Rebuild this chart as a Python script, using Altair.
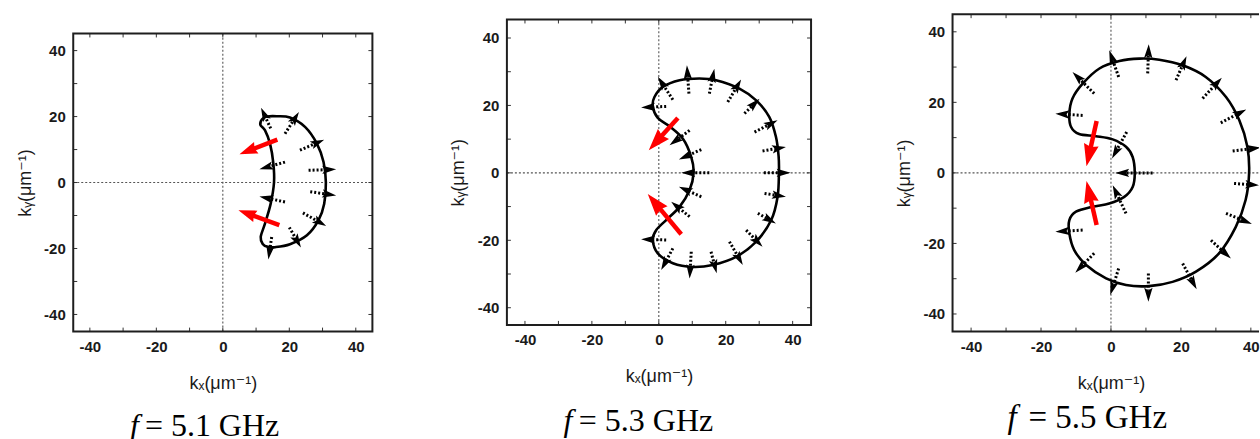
import math
import altair as alt
import pandas as pd

TICKS = [-40, -20, 0, 20, 40]
MINOR = [-40, -30, -20, -10, 0, 10, 20, 30, 40]

# ---------------- Panel 1 : f = 5.1 GHz ----------------
p1_curve_kx = [15.4, 15.2, 14.2, 12.7, 11.3, 11.8, 13.2, 16.2, 20.2, 24.8, 28.3, 30.3, 31.0,
               30.5, 28.8, 25.3, 20.2, 15.7, 13.5, 12.0, 11.4, 12.7, 14.4]
p1_curve_ky = [0.0, 5.8, 11.8, 15.8, 17.5, 19.2, 20.0, 20.1, 19.7, 16.8, 11.8, 6.2, 0.0,
               -6.4, -11.4, -16.0, -18.7, -19.6, -19.5, -18.6, -16.5, -12.4, -6.4]
p1_tail_kx = [14.4, 18.7, 23.2, 25.8, 26.3, 24.1, 20.0, 14.7, 18.7, 18.7]
p1_tail_ky = [16.4, 14.8, 9.8, 3.7, -2.8, -9.2, -13.6, -16.5, 6.2, -5.9]
p1_tip_kx = [11.5, 22.9, 30.5, 34.1, 34.1, 31.1, 23.5, 13.7, 11.0, 11.0]
p1_tip_ky = [22.7, 21.4, 13.0, 4.0, -3.9, -13.2, -19.7, -23.3, 4.0, -4.2]
p1_red_tail_kx = [16.4, 17.0]
p1_red_tail_ky = [13.0, -12.9]
p1_red_tip_kx = [5.0, 4.7]
p1_red_tip_ky = [8.6, -8.4]

# ---------------- Panel 2 : f = 5.3 GHz ----------------
p2_curve_kx = [10.4, 9.7, 7.2, 3.2, -0.3, -1.8, -1.3, 1.2, 6.2, 12.1, 17.1, 24.1, 29.1, 33.0, 35.0,
               35.8, 35.9, 35.5, 33.6, 29.1, 23.1, 16.1, 10.1, 4.2, -0.3, -1.8, -0.8, 2.2, 6.2, 9.2]
p2_curve_ky = [0.0, 4.7, 10.1, 13.8, 16.3, 19.7, 22.5, 25.5, 27.5, 28.0, 27.5, 25.0, 21.5, 16.6, 10.7,
               5.0, 0.0, -7.1, -14.0, -20.4, -24.9, -27.3, -27.9, -26.8, -23.9, -19.9, -17.0, -14.0, -10.1, -5.1]
p2_tail_kx = [2.2, 4.2, 9.0, 15.1, 20.6, 25.6, 28.6, 31.0, 31.4, 31.6, 29.6, 26.1, 21.1, 15.6, 9.7,
              4.2, 2.2, 15.1, 12.7, 9.2, 12.7, 9.2]
p2_tail_ky = [19.7, 21.7, 23.5, 23.5, 21.0, 17.6, 12.1, 6.5, 0.0, -6.1, -12.0, -17.0, -20.4, -23.4, -23.4,
              -22.4, -19.9, 0.0, 6.9, 12.6, -7.1, -13.0]
p2_tip_kx = [-5.3, -0.3, 8.4, 16.6, 24.6, 30.1, 35.5, 38.0, 39.4, 38.0, 35.0, 31.0, 25.1, 17.3, 9.2,
             0.7, -5.3, 6.7, 6.0, 3.2, 6.0, 3.7]
p2_tip_ky = [19.4, 28.5, 31.9, 30.9, 27.7, 22.0, 15.6, 7.7, 0.0, -7.1, -15.0, -21.9, -27.3, -29.8, -31.3,
             -28.8, -19.7, 0.0, 4.0, 8.2, -4.1, -8.6]
p2_red_tail_kx = [5.7, 6.7]
p2_red_tail_ky = [16.3, -18.2]
p2_red_tip_kx = [-3.0, -3.3]
p2_red_tip_ky = [6.7, -6.3]

# ---------------- Panel 3 : f = 5.5 GHz ----------------
p3_curve_kx = [6.8, 6.2, 4.3, 0.5, -4.3, -9.1, -11.4, -11.9, -11.0, -8.1, -3.3, 2.4, 8.1, 13.8, 20.5,
               27.1, 32.9, 36.7, 39.0, 39.5, 38.5, 35.7, 30.9, 24.3, 17.6, 10.9, 4.3, -1.4, -7.1, -10.5,
               -11.9, -11.9, -10.0, -5.3, -0.5, 3.8, 6.2]
p3_curve_ky = [0.0, 4.5, 7.4, 9.5, 10.4, 11.0, 13.0, 16.8, 21.1, 25.3, 29.6, 31.7, 32.4, 32.1, 30.5,
               27.2, 21.5, 14.9, 7.4, 0.0, -7.7, -15.3, -22.8, -28.0, -30.9, -32.1, -31.8, -29.9, -26.1, -21.9,
               -17.2, -13.4, -11.0, -9.6, -8.7, -6.8, -4.0]
p3_tail_kx = [-8.1, -4.8, 2.2, 10.5, 18.6, 26.2, 31.4, 34.8, 35.2, 32.9, 28.6, 20.5, 10.7, 2.2, -4.8,
              -8.1, 11.9, 4.5, 4.3]
p3_tail_ky = [16.3, 22.5, 27.2, 28.2, 26.3, 21.1, 14.2, 6.2, -3.0, -11.5, -19.1, -25.7, -28.5, -27.1, -22.8,
              -16.2, 0.0, 11.6, -11.5]
p3_tip_kx = [-15.9, -11.0, -0.5, 10.8, 21.6, 31.7, 38.7, 42.9, 42.4, 40.3, 34.3, 24.5, 10.7, -0.2, -10.2,
             -15.9, 1.2, 0.3, 0.5]
p3_tip_ky = [16.8, 28.6, 34.8, 36.5, 33.1, 27.0, 18.0, 7.2, -3.5, -14.5, -24.3, -33.0, -36.5, -34.6, -28.3,
             -16.7, 0.0, 4.1, -3.5]
p3_red_tail_kx = [-4.1, -4.1]
p3_red_tail_ky = [14.7, -14.8]
p3_red_tip_kx = [-7.0, -7.0]
p3_red_tip_ky = [1.9, -2.3]

CAPTIONS = ["= 5.1 GHz", "= 5.3 GHz", "= 5.5 GHz"]

BLACK_HEAD = "M0,-1L0.6,1L0,0.6L-0.6,1Z"
RED_HEAD = "M0,-1L0.68,1L0,0.8L-0.68,1Z"
VIEW_H = 340


def arrows(tx, ty, hx, hy, head_px, shaft_frac, ppx, ppy):
    rows = []
    for a, b, c, d in zip(tx, ty, hx, hy):
        dxp = (c - a) * ppx
        dyp = (d - b) * ppy
        n = math.hypot(dxp, dyp)
        ux, uy = dxp / n, dyp / n
        rows.append(dict(
            x0=a, y0=b,
            x1=c - ux * head_px * shaft_frac / ppx,
            y1=d - uy * head_px * shaft_frac / ppy,
            hx=c - ux * head_px / 2 / ppx,
            hy=d - uy * head_px / 2 / ppy,
            ang=(math.degrees(math.atan2(ux, uy)) + 360) % 360,
        ))
    return pd.DataFrame(rows)


def panel(ckx, cky, tkx, tky, hkx, hky, rtx, rty, rhx, rhy, xdom, ydom,
          view_x, view_w, box, caption, cap_f_x, cap_rest_x, cap_y, cap_size, red_px):
    # box = (left, right, top, bottom) of the plotting frame in page pixels
    left, right, top, bottom = box
    xr = [left - view_x, right - view_x]
    yr = [bottom, top]
    ppx = (xr[1] - xr[0]) / (xdom[1] - xdom[0])
    ppy = (yr[0] - yr[1]) / (ydom[1] - ydom[0])
    xs = alt.Scale(domain=xdom, range=xr, nice=False, zero=False)
    ys = alt.Scale(domain=ydom, range=yr, nice=False, zero=False)
    xa = alt.Axis(values=TICKS, title="kₓ(μm⁻¹)", labelExpr="'' + datum.value",
                  offset=bottom - VIEW_H, titleX=(xr[0] + xr[1]) / 2)
    ya = alt.Axis(values=TICKS, title="kᵧ(μm⁻¹)", labelExpr="'' + datum.value",
                  offset=-xr[0], titleY=(yr[0] + yr[1]) / 2)

    def X(f):
        return alt.X(f, type="quantitative", scale=xs, axis=xa)

    def Y(f):
        return alt.Y(f, type="quantitative", scale=ys, axis=ya)

    frame = pd.DataFrame({"x0": [xdom[0]], "x1": [xdom[1]], "y0": [ydom[0]], "y1": [ydom[1]]})
    frame_l = alt.Chart(frame).mark_rect(fillOpacity=0, stroke="#1e1e1e", strokeWidth=2, clip=True).encode(
        x=X("x0"), x2="x1", y=Y("y0"), y2="y1")

    cross = pd.DataFrame({"x0": [0.0, xdom[0]], "y0": [ydom[0], 0.0],
                          "x1": [0.0, xdom[1]], "y1": [ydom[1], 0.0]})
    cross_l = alt.Chart(cross).mark_rule(color="#555", strokeWidth=1.1, strokeDash=[2, 2], clip=True).encode(
        x=X("x0"), y=Y("y0"), x2="x1", y2="y1")

    lx = 4.0 / ppx
    ly = 4.0 / ppy
    trows = []
    for v in MINOR:
        trows.append(dict(x0=v, x1=v, y0=ydom[0], y1=ydom[0] + ly))
        trows.append(dict(x0=v, x1=v, y0=ydom[1] - ly, y1=ydom[1]))
        trows.append(dict(x0=xdom[0], x1=xdom[0] + lx, y0=v, y1=v))
        trows.append(dict(x0=xdom[1] - lx, x1=xdom[1], y0=v, y1=v))
    ticks_l = alt.Chart(pd.DataFrame(trows)).mark_rule(color="#333", strokeWidth=1, clip=True).encode(
        x=X("x0"), y=Y("y0"), x2="x1", y2="y1")

    cdf = pd.DataFrame({"kx": ckx, "ky": cky, "i": list(range(len(ckx)))})
    curve_l = alt.Chart(cdf).mark_line(color="black", strokeWidth=2.6, interpolate="cardinal-closed",
                                       clip=True).encode(
        x=X("kx"), y=Y("ky"), order="i:Q")

    bdf = arrows(tkx, tky, hkx, hky, 14, 0.8, ppx, ppy)
    shaft_l = alt.Chart(bdf).mark_rule(color="black", strokeWidth=3, strokeDash=[2, 2], clip=True).encode(
        x=X("x0"), y=Y("y0"), x2="x1", y2="y1")
    head_l = alt.Chart(bdf).mark_point(shape=BLACK_HEAD, filled=True, color="black", opacity=1,
                                       size=196, strokeWidth=0, clip=True).encode(
        x=X("hx"), y=Y("hy"), angle=alt.Angle("ang:Q", scale=None))

    rdf = arrows(rtx, rty, rhx, rhy, red_px, 0.7, ppx, ppy)
    rshaft_l = alt.Chart(rdf).mark_rule(color="#ff0000", strokeWidth=4.5, clip=True).encode(
        x=X("x0"), y=Y("y0"), x2="x1", y2="y1")
    rhead_l = alt.Chart(rdf).mark_point(shape=RED_HEAD, filled=True, color="#ff0000", opacity=1,
                                        size=red_px * red_px, strokeWidth=0, clip=True).encode(
        x=X("hx"), y=Y("hy"), angle=alt.Angle("ang:Q", scale=None))

    one = pd.DataFrame({"d": [0]})
    cap_f = alt.Chart(one).mark_text(font="Liberation Serif", fontStyle="italic", fontSize=cap_size,
                                     align="left", baseline="alphabetic", color="black").encode(
        x=alt.value(cap_f_x - view_x), y=alt.value(cap_y), text=alt.value("f"))
    cap_r = alt.Chart(one).mark_text(font="Liberation Serif", fontSize=cap_size,
                                     align="left", baseline="alphabetic", color="black").encode(
        x=alt.value(cap_rest_x - view_x), y=alt.value(cap_y), text=alt.value(caption))

    return alt.layer(cross_l, ticks_l, curve_l, shaft_l, head_l, rshaft_l, rhead_l, frame_l,
                     cap_f, cap_r).properties(width=view_w, height=VIEW_H)


# views tile the page side by side: [0,440), [440,890), [890,1260)
P1 = panel(p1_curve_kx, p1_curve_ky, p1_tail_kx, p1_tail_ky, p1_tip_kx, p1_tip_ky,
           p1_red_tail_kx, p1_red_tail_ky, p1_red_tip_kx, p1_red_tip_ky,
           [-45.0, 45.0], [-45.2, 45.2], 0, 440, (73.3, 372.7, 33.3, 331.7),
           CAPTIONS[0], 130, 145, 436, 32, 18)
P2 = panel(p2_curve_kx, p2_curve_ky, p2_tail_kx, p2_tail_ky, p2_tip_kx, p2_tip_ky,
           p2_red_tail_kx, p2_red_tail_ky, p2_red_tip_kx, p2_red_tip_ky,
           [-45.4, 45.5], [-45.1, 45.5], 440, 450, (507.3, 811.7, 19.3, 325.0),
           CAPTIONS[1], 564, 579.3, 430.7, 32, 22)
P3 = panel(p3_curve_kx, p3_curve_ky, p3_tail_kx, p3_tail_ky, p3_tip_kx, p3_tip_ky,
           p3_red_tail_kx, p3_red_tail_ky, p3_red_tip_kx, p3_red_tip_ky,
           [-45.3, 45.3], [-45.0, 45.0], 890, 370, (953.3, 1270.4, 14.0, 331.7),
           CAPTIONS[2], 1008.3, 1029.3, 428, 33, 22)

chart = alt.hconcat(P1, P2, P3, spacing=0, bounds="flush").properties(
    padding={"left": 0, "top": 0, "right": 0, "bottom": 0},
    background="white",
).configure_view(
    stroke="transparent", strokeWidth=0
).configure_axis(
    grid=False, ticks=False, tickSize=0, domain=False,
    labelFont="Liberation Sans", labelFontSize=15, labelFontWeight="bold", labelColor="#1a1a1a",
    labelPadding=8,
    titleFont="Liberation Sans, DejaVu Sans", titleFontSize=18, titleFontWeight="normal",
    titleColor="#1a1a1a",
).configure_axisX(titlePadding=20).configure_axisY(titlePadding=9.5)

chart.save("out.html", embed_options={"renderer": "svg", "actions": False})
